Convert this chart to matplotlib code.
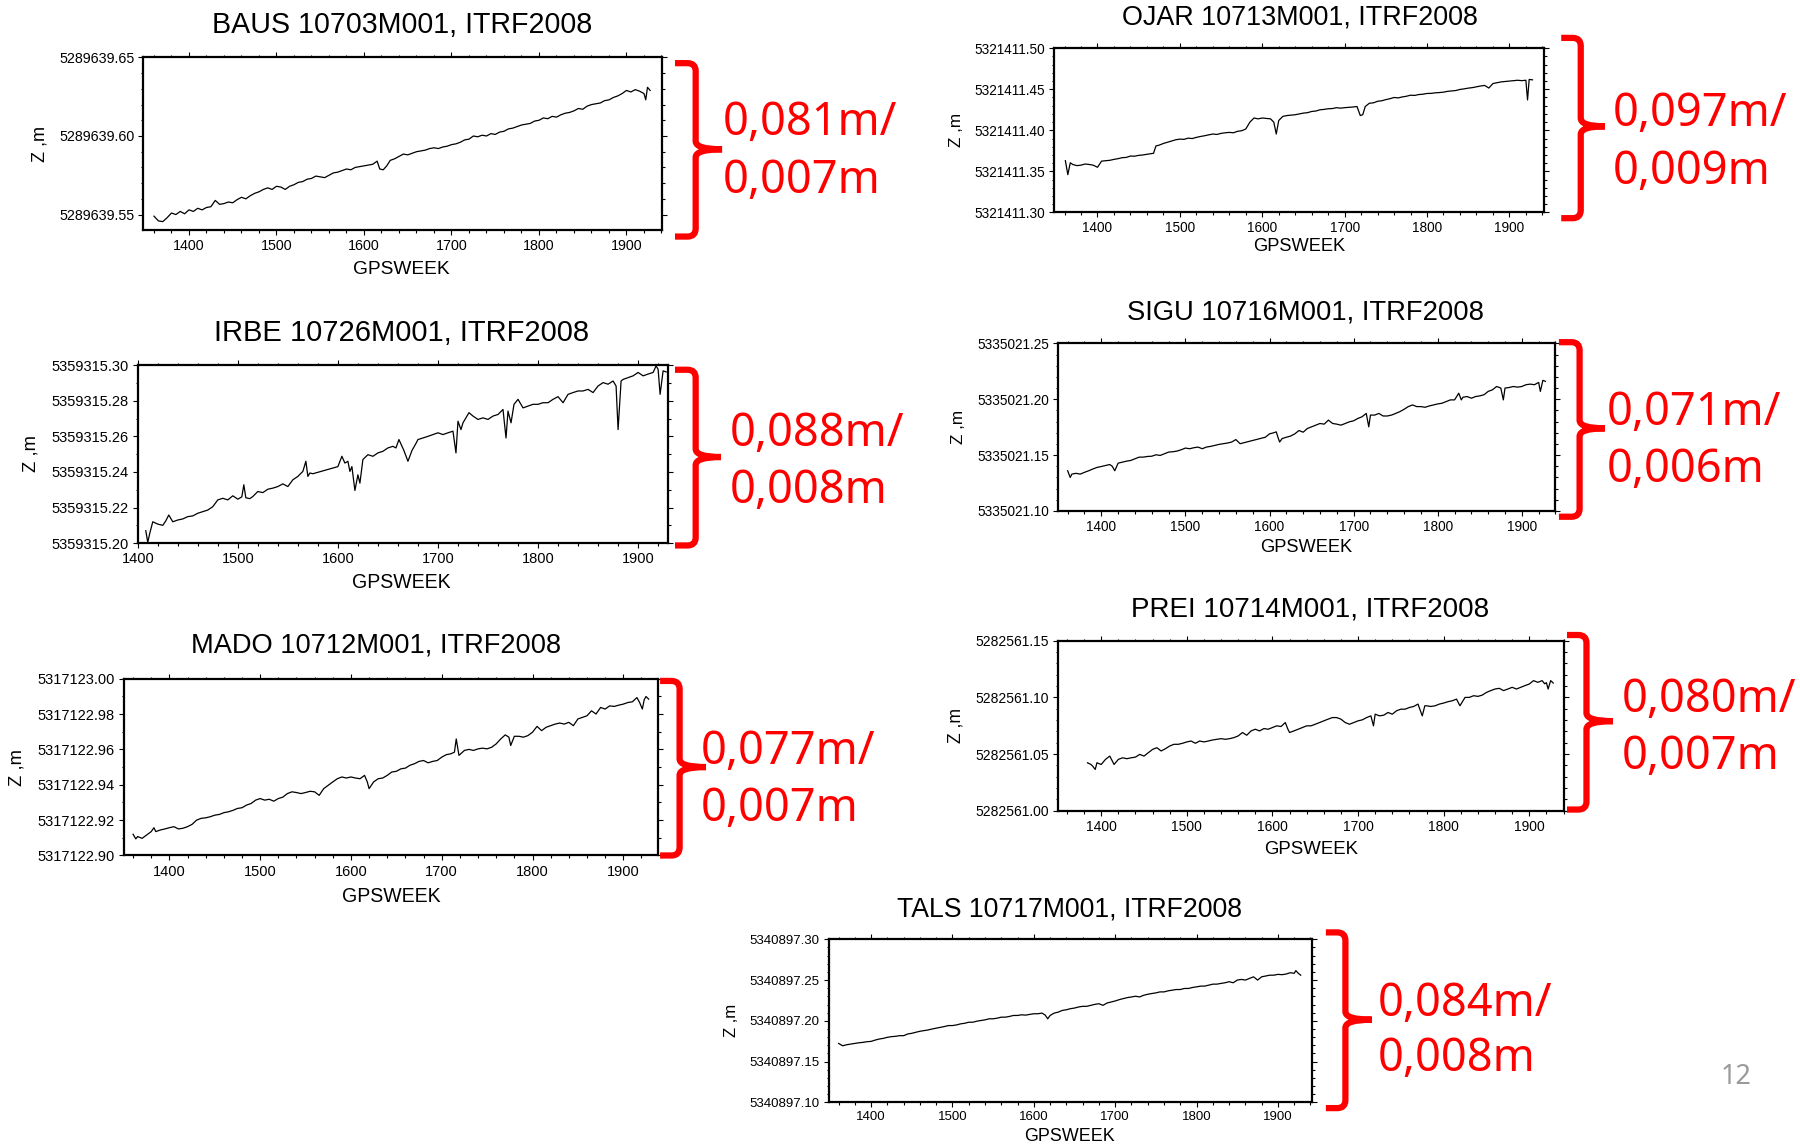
import numpy as np
import matplotlib.pyplot as plt
from matplotlib.path import Path
from matplotlib.patches import PathPatch, Rectangle
from matplotlib.ticker import MultipleLocator, FormatStrFormatter

plt.rcParams['font.family'] = ['Liberation Sans', 'DejaVu Sans']

# ---- data: GPS week and height above a base value (mm) ----
baus_base = 5289639.50
baus_wk = [1360, 1365, 1370, 1375, 1380, 1385, 1390, 1395, 1400, 1405,
           1410, 1415, 1420, 1425, 1430, 1435, 1440, 1445, 1450, 1455,
           1460, 1465, 1470, 1475, 1480, 1485, 1490, 1495, 1500, 1505,
           1510, 1515, 1520, 1525, 1530, 1535, 1540, 1545, 1550, 1555,
           1560, 1565, 1570, 1575, 1580, 1585, 1590, 1595, 1600, 1605,
           1610, 1615, 1618, 1622, 1626, 1630, 1635, 1640, 1645, 1650,
           1655, 1660, 1665, 1670, 1675, 1680, 1685, 1690, 1695, 1700,
           1705, 1710, 1715, 1720, 1725, 1730, 1735, 1740, 1745, 1750,
           1755, 1760, 1765, 1770, 1775, 1780, 1785, 1790, 1795, 1800,
           1805, 1810, 1815, 1820, 1825, 1830, 1835, 1840, 1845, 1850,
           1855, 1860, 1865, 1870, 1875, 1880, 1885, 1890, 1895, 1900,
           1905, 1910, 1915, 1920, 1922, 1924, 1927]
baus_mm = [49, 46, 45.5, 48, 51, 50, 52, 50.5, 53, 52,
           54, 53, 54.5, 55, 59, 56.5, 57, 58, 57.5, 59.5,
           61, 60, 62, 63.5, 64.5, 66, 67, 66, 68, 67.5,
           66, 68, 69, 70.5, 71, 72.5, 73, 74.5, 74, 73.5,
           75, 76.5, 77, 78, 79, 78.5, 80, 80.5, 81, 81.5,
           82, 84, 79, 78.5, 81, 84.5, 85.5, 87, 88.5, 88,
           89, 90, 90.5, 91, 92, 92.5, 92, 93, 93.5, 94.5,
           95, 96, 97.5, 98, 100, 99.5, 100.5, 100, 101.5, 101,
           102.5, 103, 104.5, 105, 106, 107, 107.5, 108, 109.5, 110,
           111.5, 111, 112.5, 112, 113.5, 114.5, 115, 116, 117.5, 117,
           119, 120, 120.5, 121, 122.5, 123, 124.5, 125.5, 127, 129,
           128, 129.5, 128.5, 127, 123, 131, 129]

ojar_base = 5321411.30
ojar_wk = [1361, 1364, 1367, 1370, 1375, 1380, 1385, 1390, 1395, 1400,
           1405, 1410, 1415, 1420, 1425, 1430, 1435, 1440, 1445, 1450,
           1455, 1460, 1465, 1468, 1471, 1475, 1480, 1485, 1490, 1495,
           1500, 1505, 1510, 1515, 1520, 1525, 1530, 1535, 1540, 1545,
           1550, 1555, 1560, 1565, 1570, 1575, 1580, 1585, 1590, 1595,
           1600, 1605, 1610, 1614, 1617, 1620, 1625, 1630, 1635, 1640,
           1645, 1650, 1655, 1660, 1665, 1670, 1675, 1680, 1685, 1690,
           1695, 1700, 1705, 1710, 1715, 1719, 1722, 1725, 1730, 1735,
           1740, 1745, 1750, 1755, 1760, 1765, 1770, 1775, 1780, 1785,
           1790, 1795, 1800, 1805, 1810, 1815, 1820, 1825, 1830, 1835,
           1840, 1845, 1850, 1855, 1860, 1865, 1870, 1875, 1880, 1885,
           1890, 1895, 1900, 1905, 1910, 1915, 1920, 1922, 1924, 1928]
ojar_mm = [63, 46, 60.5, 58.4, 57, 57.6, 59, 58.4, 57.5, 55,
           62.5, 63, 63.5, 64.6, 65.5, 66.7, 67, 68.7, 68.5, 69.5,
           70, 70.8, 71.6, 72, 81, 82, 84, 85.5, 87, 88.5,
           89.3, 89, 90.5, 90, 91.4, 92.5, 93.4, 94.5, 95.5, 95,
           96.3, 97, 97.5, 97, 98.8, 99.5, 101.6, 110, 115, 114,
           115, 114.5, 114, 110, 95.5, 112, 117, 118, 118.5, 119,
           120, 121, 121.5, 123, 123.5, 125, 125.5, 126.3, 126.5, 127.6,
           127, 127.6, 128, 128.4, 129, 118, 119, 129, 133, 133.5,
           135.4, 136, 137.4, 138.5, 140, 139.5, 140.7, 141.5, 142.8, 142.5,
           143.6, 144, 144.9, 145, 145.7, 146, 146.5, 147.5, 148, 148.5,
           149.8, 150.5, 151.4, 152, 153, 154, 154.7, 151.5, 157, 158,
           159, 159.5, 160, 160.5, 161, 160.5, 161, 137, 162, 161.5]

irbe_base = 5359315.20
irbe_wk = [1408, 1410, 1412, 1415, 1420, 1425, 1428, 1431, 1435, 1440,
           1445, 1450, 1455, 1460, 1465, 1470, 1475, 1480, 1485, 1490,
           1495, 1500, 1504, 1506, 1508, 1512, 1515, 1520, 1525, 1530,
           1535, 1540, 1545, 1550, 1555, 1560, 1565, 1568, 1570, 1572,
           1575, 1600, 1604, 1607, 1610, 1612, 1614, 1617, 1620, 1622,
           1625, 1630, 1635, 1640, 1645, 1650, 1655, 1658, 1661, 1666,
           1670, 1674, 1678, 1680, 1685, 1690, 1695, 1700, 1705, 1710,
           1715, 1718, 1720, 1723, 1725, 1731, 1735, 1740, 1745, 1750,
           1755, 1760, 1765, 1768, 1770, 1773, 1776, 1780, 1785, 1790,
           1795, 1800, 1805, 1810, 1815, 1820, 1825, 1830, 1835, 1840,
           1845, 1850, 1855, 1860, 1865, 1870, 1875, 1878, 1880, 1883,
           1885, 1890, 1895, 1900, 1905, 1910, 1915, 1918, 1920, 1922,
           1925, 1928]
irbe_mm = [7, 0.5, 5.5, 12, 10.7, 10, 12.5, 15.8, 12, 13,
           13.6, 14.9, 15.3, 16.8, 17.7, 18.6, 20.5, 24.3, 25.2, 24.3,
           26.6, 24.7, 26, 32.8, 25.5, 25, 26.2, 29, 28.4, 30.3,
           30.9, 31.8, 33.3, 31.8, 35.6, 37.5, 40.3, 46, 37.5, 39.4,
           39, 43, 48.8, 45, 46, 40.3, 43, 29.6, 38.4, 33.7,
           47, 49.7, 48.8, 50.7, 51.6, 53.5, 54.4, 53.5, 58.2, 52,
           46, 52, 56, 58.2, 59.1, 60, 61, 62, 61, 62,
           62.9, 50.7, 68.5, 63.8, 67.6, 73.3, 71.4, 69.5, 70.4, 69.5,
           71.4, 72.3, 75.1, 59.1, 74.2, 67.6, 78, 80.8, 76, 77,
           78, 78, 78.9, 78.9, 80.8, 82.3, 78.9, 83.6, 84.6, 85.5,
           85.5, 86.4, 84.6, 88.3, 90.2, 89.3, 91.1, 88.3, 63.8, 91.1,
           92, 93, 94, 95.9, 94, 95, 95.9, 99.6, 97.7, 83.6,
           96.8, 96.2]

sigu_base = 5335021.10
sigu_wk = [1360, 1363, 1365, 1370, 1375, 1380, 1385, 1390, 1395, 1400,
           1405, 1410, 1413, 1416, 1420, 1425, 1430, 1435, 1440, 1445,
           1450, 1455, 1460, 1465, 1470, 1475, 1480, 1485, 1490, 1495,
           1500, 1505, 1510, 1515, 1520, 1525, 1530, 1535, 1540, 1545,
           1550, 1555, 1560, 1565, 1595, 1600, 1605, 1608, 1610, 1612,
           1615, 1620, 1625, 1630, 1635, 1640, 1645, 1650, 1655, 1660,
           1665, 1670, 1675, 1680, 1685, 1690, 1695, 1700, 1705, 1710,
           1715, 1718, 1720, 1725, 1730, 1735, 1740, 1745, 1750, 1755,
           1760, 1765, 1770, 1775, 1780, 1785, 1790, 1795, 1800, 1805,
           1810, 1815, 1820, 1825, 1828, 1830, 1835, 1840, 1845, 1850,
           1855, 1860, 1865, 1870, 1875, 1878, 1880, 1885, 1890, 1895,
           1900, 1905, 1910, 1915, 1920, 1922, 1925, 1928]
sigu_mm = [36, 30, 33, 33.7, 33, 34.6, 36, 37.6, 39, 39.8,
           40.7, 41.6, 40, 36, 42.8, 43.7, 44.6, 45.2, 46.7, 48.2,
           48.2, 48.8, 49, 50.3, 49.7, 51.2, 52.7, 53, 53.6, 54.8,
           56.3, 55.7, 56.6, 57.2, 55.7, 57.2, 57.8, 58.7, 59.6, 60.2,
           60.8, 61.7, 63.9, 60.2, 66, 69, 70, 70.8, 66, 61.7,
           64.8, 66, 67, 69, 72, 70.5, 73.8, 75.3, 76.8, 78.3,
           77.7, 81.3, 78.3, 77.7, 76.8, 78.3, 79.8, 80.7, 82.8, 84.3,
           87.3, 75.3, 85.8, 85.8, 87.3, 85, 85, 85.8, 87.3, 88.9,
           91, 93.4, 94.9, 93.4, 93.4, 92.8, 94, 94.9, 95.8, 96.4,
           97.9, 99.4, 99.4, 105.4, 99.4, 101.8, 102.4, 100.9, 102.4, 103,
           104, 107, 108.4, 111.4, 110, 99.4, 110, 110.5, 111.4, 110.8,
           111.4, 113, 113.5, 113, 115, 107, 116.9, 116]

mado_base = 5317122.90
mado_wk = [1360, 1363, 1365, 1370, 1375, 1380, 1383, 1385, 1390, 1395,
           1400, 1405, 1410, 1415, 1420, 1425, 1430, 1435, 1440, 1445,
           1450, 1455, 1460, 1465, 1470, 1475, 1480, 1485, 1490, 1495,
           1500, 1505, 1510, 1515, 1520, 1525, 1530, 1535, 1540, 1545,
           1550, 1555, 1560, 1565, 1570, 1575, 1580, 1585, 1590, 1595,
           1600, 1605, 1610, 1615, 1618, 1620, 1625, 1630, 1635, 1640,
           1645, 1650, 1655, 1660, 1665, 1670, 1675, 1680, 1685, 1690,
           1695, 1700, 1705, 1710, 1714, 1716, 1719, 1725, 1730, 1735,
           1740, 1745, 1750, 1755, 1760, 1765, 1770, 1774, 1776, 1780,
           1785, 1790, 1795, 1800, 1805, 1810, 1815, 1820, 1825, 1830,
           1835, 1840, 1845, 1850, 1855, 1860, 1865, 1870, 1875, 1880,
           1885, 1890, 1895, 1900, 1905, 1910, 1915, 1918, 1921, 1923,
           1925, 1928]
mado_mm = [12, 9.4, 10.7, 9.7, 11.6, 13.5, 15.7, 13.5, 14.4, 15,
           15.7, 16.3, 15, 15.4, 16.3, 17.6, 20, 21, 21.3, 21.9,
           22.8, 23.2, 24.2, 24.7, 25.5, 26.6, 27, 28.5, 29.4, 31.3,
           32.2, 31.3, 31.8, 30.7, 32.2, 33, 35, 36, 35.6, 35,
           35.6, 36.3, 36, 34, 37.8, 39.7, 41.6, 43.4, 44.4, 43.8,
           44.4, 43.8, 43.4, 45.3, 41.6, 37.8, 41.6, 43.4, 43.8, 45.3,
           47.2, 47.6, 49, 49.4, 51, 51.9, 53.2, 53.7, 52.4, 53.2,
           53.7, 55.6, 57, 57.5, 58.4, 65.9, 56.6, 59.4, 60, 59.4,
           60.3, 60.7, 60.3, 61.2, 63.1, 65.9, 68.2, 66.9, 62.2, 67.4,
           67.4, 66.9, 67.8, 69.7, 73, 70.6, 72.5, 73.4, 74.3, 74.9,
           74.3, 75.3, 73.4, 77.2, 78.1, 79, 81.8, 80, 83.7, 82.8,
           84.6, 84.3, 85, 85.6, 86.5, 86.9, 89.3, 86.5, 82.8, 88,
           89.9, 88.4]

prei_base = 5282561.00
prei_wk = [1384, 1388, 1390, 1393, 1395, 1400, 1405, 1410, 1415, 1420,
           1425, 1430, 1435, 1440, 1445, 1450, 1455, 1460, 1465, 1470,
           1475, 1480, 1485, 1490, 1495, 1500, 1505, 1510, 1515, 1520,
           1525, 1530, 1535, 1540, 1545, 1550, 1555, 1560, 1565, 1570,
           1575, 1580, 1585, 1590, 1595, 1600, 1605, 1610, 1615, 1618,
           1620, 1625, 1630, 1635, 1640, 1645, 1650, 1655, 1660, 1665,
           1670, 1675, 1680, 1685, 1690, 1695, 1700, 1705, 1710, 1715,
           1718, 1720, 1725, 1730, 1735, 1740, 1745, 1750, 1755, 1760,
           1765, 1770, 1775, 1778, 1780, 1785, 1790, 1795, 1800, 1805,
           1810, 1815, 1819, 1825, 1830, 1835, 1840, 1845, 1850, 1855,
           1860, 1865, 1870, 1875, 1880, 1885, 1890, 1895, 1900, 1905,
           1910, 1915, 1918, 1920, 1922, 1925, 1928]
prei_mm = [42.3, 40.8, 39.3, 36.4, 42.3, 40.8, 45.3, 48.2, 40.8, 45.3,
           46.7, 45.9, 46.7, 47.3, 49.7, 48.2, 51.2, 54.1, 55.6, 52.7,
           54.7, 57.1, 58.6, 58.6, 59.5, 60.7, 61.5, 59.5, 61.5, 60.7,
           61.5, 62.4, 63, 63.6, 63, 63.6, 64.5, 66, 69, 66.6,
           70.4, 71.9, 70.4, 72.5, 71.9, 73.4, 74.9, 74.3, 77.8, 72,
           69, 70.4, 71.9, 73.4, 74.9, 74.9, 76.3, 77.8, 79.3, 80.8,
           82.2, 82.2, 80.8, 77.8, 76.3, 77.8, 79.3, 80.2, 82.2, 83.7,
           74.9, 85.2, 83.7, 84.3, 86.7, 85.2, 88.2, 89.6, 89.6, 91.1,
           92, 94.1, 83.7, 92.6, 92.6, 92, 92.6, 94.1, 95, 96.2,
           97, 98.5, 92.6, 100, 100, 101.5, 100.9, 102, 104.4, 106,
           107.4, 108, 106, 107.4, 108.9, 107.4, 108.9, 110.4, 111.8, 114.8,
           113.3, 114.8, 112, 113, 107.4, 114.8, 112.7]

tals_base = 5340897.10
tals_wk = [1360, 1365, 1370, 1375, 1380, 1385, 1390, 1395, 1400, 1405,
           1410, 1415, 1420, 1425, 1430, 1435, 1440, 1445, 1450, 1455,
           1460, 1465, 1470, 1475, 1480, 1485, 1490, 1495, 1500, 1505,
           1510, 1515, 1520, 1525, 1530, 1535, 1540, 1545, 1550, 1555,
           1560, 1565, 1570, 1575, 1580, 1585, 1590, 1595, 1600, 1605,
           1610, 1614, 1617, 1620, 1625, 1630, 1635, 1640, 1645, 1650,
           1655, 1660, 1665, 1670, 1675, 1680, 1685, 1690, 1695, 1700,
           1705, 1710, 1715, 1720, 1725, 1730, 1735, 1740, 1745, 1750,
           1755, 1760, 1765, 1770, 1775, 1780, 1785, 1790, 1795, 1800,
           1805, 1810, 1815, 1820, 1825, 1830, 1835, 1840, 1845, 1850,
           1855, 1860, 1865, 1870, 1875, 1880, 1885, 1890, 1895, 1900,
           1905, 1910, 1915, 1920, 1922, 1925, 1928]
tals_mm = [72.3, 69.4, 70.7, 71.5, 72.3, 73.1, 73.6, 74.4, 74.8, 76.4,
           77.7, 78.5, 79.8, 80.6, 81, 81.8, 81.8, 83.9, 84.7, 86,
           87.2, 88, 88.8, 90, 91, 92, 93, 94.2, 94.2, 95,
           96.3, 97, 98.3, 98.3, 99.6, 100.4, 101.2, 102.5, 102.5, 103.3,
           104.5, 104.5, 105.4, 106.6, 106.6, 107.4, 107, 107.9, 108.7, 108.7,
           109.5, 107, 102.5, 106.6, 109.5, 110.7, 112.8, 113.6, 114.9, 115.7,
           117, 117.8, 117.8, 119, 120.2, 121, 119, 121.9, 123.1, 124.4,
           126, 127.3, 128.5, 129.3, 130.2, 129.3, 131.4, 132.6, 133.5, 134.3,
           135.5, 135.5, 136.8, 137.6, 138.4, 138.4, 139.7, 139.7, 140.9, 141.7,
           142.6, 142.6, 143.8, 145, 145, 145.9, 146.7, 148, 146.7, 150,
           150.8, 150, 152, 154, 150, 154, 155, 156, 156, 157,
           156.6, 157.4, 159, 158.3, 161.6, 158.3, 156]

titles = ['BAUS 10703M001, ITRF2008', 'OJAR 10713M001, ITRF2008',
          'IRBE 10726M001, ITRF2008', 'SIGU 10716M001, ITRF2008',
          'MADO 10712M001, ITRF2008', 'PREI 10714M001, ITRF2008',
          'TALS 10717M001, ITRF2008']
rates = ['0,081m/', '0,097m/', '0,088m/', '0,071m/', '0,077m/', '0,080m/', '0,084m/']
errors = ['0,007m', '0,009m', '0,008m', '0,006m', '0,007m', '0,007m', '0,008m']
ylims = [(5289639.5404, 5289639.65), (5321411.30, 5321411.50),
         (5359315.20, 5359315.30), (5335021.10, 5335021.25),
         (5317122.90, 5317123.00), (5282561.00, 5282561.15),
         (5340897.10, 5340897.30)]
ysteps = [0.05, 0.05, 0.02, 0.05, 0.02, 0.05, 0.05]
xlims = [(1348, 1941), (1347, 1942), (1400, 1930), (1349, 1940),
         (1350, 1938), (1350, 1940), (1348, 1942)]

series = [(baus_base, baus_wk, baus_mm), (ojar_base, ojar_wk, ojar_mm),
          (irbe_base, irbe_wk, irbe_mm), (sigu_base, sigu_wk, sigu_mm),
          (mado_base, mado_wk, mado_mm), (prei_base, prei_wk, prei_mm),
          (tals_base, tals_wk, tals_mm)]

# ---- layout, measured on a 1568 x 998 view of the slide ----
W, H = 1568, 998
boxes = [(125, 577, 50, 200), (918, 1345, 42, 185), (120, 582, 318, 473),
         (922, 1355, 299, 445), (108, 573, 591, 745), (922, 1362, 558, 706),
         (722, 1143, 818, 960)]
title_xy = [(350.5, 22), (1132, 15), (350, 290), (1137.5, 272), (328, 562),
            (1141.5, 531), (931.5, 792)]
title_fs = [20.6, 19.4, 21, 19.7, 19.6, 20, 19.2]
xlab_xy = [(350, 235), (1132, 215), (350, 507), (1138, 477), (341, 781),
           (1142, 740), (932, 990)]
ylab_xy = [(35, 125), (833, 113), (27, 395), (835, 372), (15, 668),
           (833, 632), (637, 889)]
scale = [1.0, 0.95, 1.02, 0.95, 1.02, 0.97, 0.93]
# bracket: left end, spine, top, bottom, nub y, nub tip
brackets = [(588, 606, 55, 206, 130, 629), (1360, 1377, 33, 190, 110, 1398),
            (588, 606, 322, 475, 398, 628), (1358, 1376, 298, 450, 373, 1398),
            (575, 592, 593, 745, 668, 615), (1365, 1382, 553, 705, 628, 1405),
            (1155, 1172, 812, 965, 888, 1195)]
red_xy = [(630, 118, 168), (1405, 110, 160), (636, 388, 438), (1400, 370, 420),
          (610, 665, 715), (1413, 620, 670), (1200, 885, 933)]

fig = plt.figure(figsize=(18, 11.46), dpi=100)
ov = fig.add_axes([0, 0, 1, 1], zorder=5)
ov.set_xlim(0, W)
ov.set_ylim(H, 0)
ov.axis('off')
ov.patch.set_alpha(0)


def bracket(xl, xs, yt, yb, ym, xn, r=7):
    verts = [(xl, yt), (xs - r, yt), (xs, yt), (xs, yt + r),
             (xs, ym - r), (xs, ym), (xn, ym),
             (xn, ym), (xs, ym), (xs, ym + r),
             (xs, yb - r), (xs, yb), (xs - r, yb), (xl, yb)]
    codes = [Path.MOVETO, Path.LINETO, Path.CURVE3, Path.CURVE3,
             Path.LINETO, Path.CURVE3, Path.CURVE3,
             Path.MOVETO, Path.CURVE3, Path.CURVE3,
             Path.LINETO, Path.CURVE3, Path.CURVE3, Path.LINETO]
    ov.add_patch(PathPatch(Path(verts, codes), fill=False, ec='#ff0000',
                           lw=4.5, capstyle='butt', joinstyle='round'))


for i, (base, wk, mm) in enumerate(series):
    l, r, t, b = boxes[i]
    ax = fig.add_axes([l / W, 1 - b / H, (r - l) / W, (b - t) / H])
    z = base + np.array(mm) / 1000.0
    ax.plot(wk, z, color='black', lw=0.9)
    ax.set_xlim(*xlims[i])
    lo, hi = ylims[i]
    # tiny margin so the end ticks survive float rounding
    ax.set_ylim(lo - 1e-6, hi + 1e-6)
    ax.xaxis.set_major_locator(MultipleLocator(100))
    ax.xaxis.set_minor_locator(MultipleLocator(20))
    ax.yaxis.set_major_locator(MultipleLocator(ysteps[i]))
    ax.yaxis.set_minor_locator(MultipleLocator(0.01))
    ax.yaxis.set_major_formatter(FormatStrFormatter('%.2f'))
    s = scale[i]
    ax.tick_params(which='both', direction='out', top=True, right=True,
                   labelsize=10.3 * s, width=0.8, pad=3, colors='black')
    ax.tick_params(which='major', length=3.5)
    ax.tick_params(which='minor', length=1.8)
    for sp in ax.spines.values():
        sp.set_linewidth(1.6)

    ov.text(*title_xy[i], titles[i], fontsize=title_fs[i], ha='center', va='center')
    ov.text(*xlab_xy[i], 'GPSWEEK', fontsize=13.8 * s, ha='center', va='center')
    ov.text(*ylab_xy[i], 'Z ,m', fontsize=13 * s, rotation=90, ha='center', va='center')

    bracket(*brackets[i])
    x0, y1, y2 = red_xy[i]
    ov.text(x0, y1, rates[i], fontsize=32.5, color='#ff0000', family='Noto Sans',
            ha='left', va='baseline')
    ov.text(x0, y2, errors[i], fontsize=32.5, color='#ff0000', family='Noto Sans',
            ha='left', va='baseline')

# the slide cuts off the lower part of the IRBE axis label
ov.add_patch(Rectangle((290, 512), 130, 14, fc='white', ec='none', zorder=10))

ov.text(1512, 938, '12', fontsize=19.5, color='#9a9a9a', family='Noto Sans',
        ha='center', va='center')

fig.savefig('out.png', dpi=100, facecolor='white')
